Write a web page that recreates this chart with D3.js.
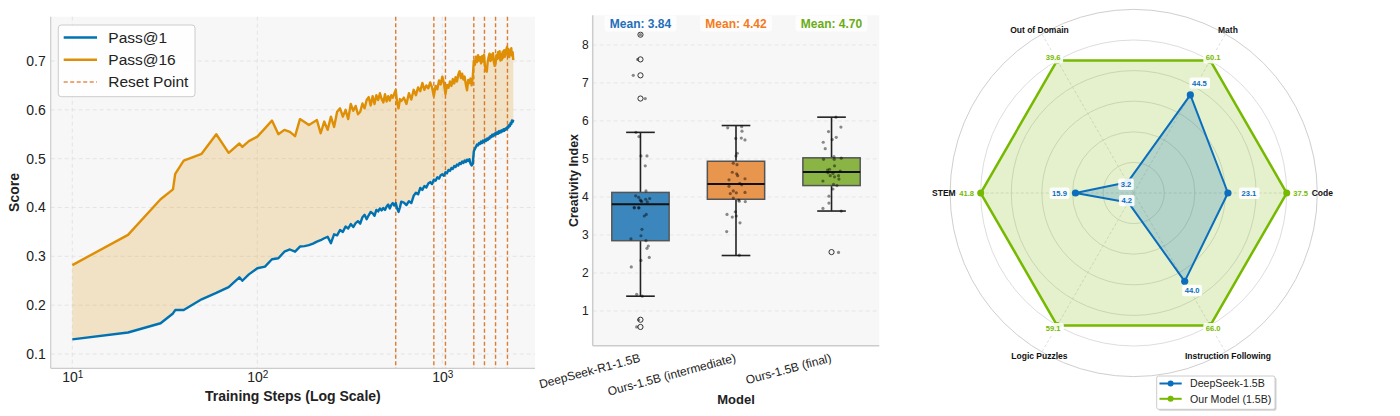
<!DOCTYPE html>
<html><head><meta charset="utf-8">
<script src="https://cdn.jsdelivr.net/npm/d3@7"></script>
<style>
body{margin:0;background:#fff;}
svg{display:block;font-family:"Liberation Sans",Arial,Helvetica,sans-serif;}
</style>
</head><body>
<svg id="c" width="1400" height="416"></svg>
<script>
// ---------------- DATA ----------------
// Left: training curves
const steps = [10,20,30,35,36,40,50,60,70,80,83,90,
 100,110,120,130,140,150,160,170,180,190,
 200,210,220,230,240,250,260,270,280,290,
 300,310,320,330,340,350,360,370,380,390,
 400,410,420,430,440,450,460,470,480,490,
 500,510,520,530,540,550,560,570,580,590,
 600,620,640,660,680,700,720,740,760,780,
 800,820,840,860,880,900,920,940,960,980,
 1000,1020,1040,1060,1080,1100,1120,1140,1160,1180,
 1200,1220,1240,1260,1280,1300,1320,1340,1360,1380,
 1400,1420,1440,1460,1480,1500,1520,1540,1560,1580,
 1600,1620,1640,1660,1680,1700,1720,1740,1760,1780,
 1800,1820,1840,1860,1880,1900,1920,1940,1960,1980,
 2000,2020,2040,2060,2080,2100,2120,2140,2160,2180,
 2200,2220,2240,2260,2280,2300,2320,2340,2360,2380,2400,2420];
const pass1 = [0.130,0.144,0.163,0.183,0.190,0.190,0.212,0.225,0.237,0.257,0.250,0.263,
 0.2755,0.279,0.294,0.296,0.3095,0.314,0.3095,0.320,0.321,0.323,
 0.326,0.330,0.333,0.337,0.340,0.327,0.345,0.343,0.354,0.350,
 0.361,0.357,0.366,0.360,0.368,0.372,0.367,0.380,0.385,0.376,
 0.384,0.391,0.388,0.383,0.395,0.392,0.398,0.394,0.399,0.395,
 0.402,0.406,0.398,0.405,0.409,0.404,0.409,0.398,0.391,0.400,
 0.412,0.410,0.405,0.413,0.409,0.424,0.430,0.427,0.440,0.436,
 0.444,0.441,0.449,0.452,0.448,0.457,0.455,0.462,0.459,0.466,
 0.468,0.465,0.472,0.470,0.477,0.475,0.481,0.479,0.485,0.483,
 0.488,0.486,0.491,0.489,0.494,0.491,0.496,0.493,0.498,0.495,
 0.499,0.490,0.486,0.489,0.515,0.520,0.524,0.529,0.527,0.532,
 0.530,0.535,0.532,0.537,0.534,0.539,0.536,0.541,0.538,0.543,
 0.541,0.546,0.544,0.549,0.546,0.550,0.548,0.553,0.550,0.554,
 0.551,0.556,0.553,0.557,0.554,0.558,0.556,0.560,0.557,0.561,
 0.559,0.563,0.561,0.566,0.564,0.569,0.567,0.573,0.571,0.578,0.575,0.580];
const pass16 = [0.282,0.344,0.417,0.437,0.469,0.496,0.510,0.550,0.512,0.531,0.524,0.536,
 0.545,0.562,0.578,0.550,0.559,0.555,0.546,0.581,0.575,0.569,
 0.574,0.579,0.552,0.576,0.559,0.586,0.565,0.596,0.603,0.586,
 0.600,0.581,0.612,0.598,0.608,0.591,0.596,0.613,0.603,0.620,
 0.626,0.609,0.628,0.612,0.630,0.620,0.634,0.622,0.615,0.632,
 0.617,0.628,0.619,0.630,0.625,0.633,0.641,0.614,0.603,0.622,
 0.618,0.625,0.612,0.634,0.621,0.641,0.630,0.646,0.638,0.655,
 0.641,0.650,0.644,0.656,0.646,0.628,0.649,0.642,0.660,0.652,
 0.668,0.655,0.632,0.651,0.645,0.658,0.649,0.663,0.654,0.667,
 0.658,0.672,0.679,0.665,0.674,0.662,0.668,0.652,0.640,0.661,
 0.655,0.664,0.650,0.666,0.700,0.692,0.709,0.698,0.712,0.701,
 0.708,0.695,0.710,0.699,0.713,0.690,0.680,0.678,0.699,0.708,
 0.715,0.700,0.713,0.703,0.716,0.698,0.690,0.695,0.712,0.704,
 0.718,0.706,0.720,0.701,0.714,0.703,0.719,0.707,0.722,0.709,
 0.715,0.724,0.729,0.712,0.724,0.708,0.721,0.713,0.726,0.711,0.718,0.702];
const resetSteps = [560, 900, 1040, 1480, 1690, 1940, 2250];
const yTicksL = [0.1,0.2,0.3,0.4,0.5,0.6,0.7];
const xTicksL = [10,100,1000];
const legendL = ["Pass@1","Pass@16","Reset Point"];

// Middle: creativity box plot
const models = ["DeepSeek-R1-1.5B","Ours-1.5B (intermediate)","Ours-1.5B (final)"];
const means = [3.84, 4.42, 4.70];
const q1 = [2.85, 3.94, 4.30];
const medians = [3.81, 4.34, 4.66];
const q3 = [4.12, 4.94, 5.03];
const whiskLo = [1.39, 2.46, 3.63];
const whiskHi = [5.70, 5.88, 6.10];
const outliers = [[8.27,7.62,7.20,6.59,0.77,0.58],[],[2.55]];
const pointsA = [8.27,7.62,7.20,6.59,5.70,5.59,5.08,5.08,4.82,4.16,4.03,3.99,3.92,3.94,3.96,3.88,3.87,3.71,3.71,3.90,3.73,3.72,3.50,3.54,3.15,2.98,2.90,2.85,2.71,2.65,2.41,2.33,2.16,1.44,1.39,0.77,0.58];
const pointsB = [5.82,5.85,5.73,5.54,5.55,5.50,5.15,5.08,4.89,4.85,4.65,4.61,4.56,4.48,4.45,4.36,4.32,4.28,4.16,4.09,4.11,4.12,3.97,3.92,3.89,3.88,3.54,3.61,3.47,3.50,3.32,3.09,2.47];
const pointsC = [6.10,5.84,5.72,5.57,5.51,5.44,5.27,5.06,4.99,4.99,5.02,4.82,4.71,4.73,4.64,4.62,4.68,4.56,4.53,4.56,4.42,4.47,4.33,4.30,4.21,4.02,3.84,3.70,3.63,2.54];
const yTicksM = [1,2,3,4,5,6,7,8];

// Right: radar
const radarAxes = ["Code","Math","Out of Domain","STEM","Logic Puzzles","Instruction Following"];
const deepseek = [23.1, 44.5, 3.2, 15.9, 4.2, 44.0];
const ours = [37.5, 60.1, 39.6, 41.8, 59.1, 66.0];
const radarSeries = ["DeepSeek-1.5B","Our Model (1.5B)"];
const radarRings = [0.2,0.4,0.6,0.8,1.0];

// ---------------- LAYOUT / STYLE ----------------
const svg = d3.select('#c');
const BLUE = '#0072B2', ORANGE = '#DE8F05', RESET = '#D55E00';
const TXT = '#222';

// ===== LEFT CHART =====
const L = {x0:50.7, x1:535, y0:16.7, y1:368.3};
const xL = d3.scaleLog().domain([7.64, 3170]).range([L.x0, L.x1]);
const yL = d3.scaleLinear().domain([0.0707, 0.7907]).range([L.y1, L.y0]);
const gL = svg.append('g');
gL.append('rect').attr('x',L.x0).attr('y',L.y0).attr('width',L.x1-L.x0).attr('height',L.y1-L.y0).attr('fill','#f7f7f7');
gL.append('g').selectAll('line').data(yTicksL).join('line')
  .attr('x1',L.x0).attr('x2',L.x1).attr('y1',d=>yL(d)).attr('y2',d=>yL(d))
  .attr('stroke','#e0e0e0').attr('stroke-width',0.8).attr('stroke-dasharray','4,3');
gL.append('g').selectAll('line').data(xTicksL).join('line')
  .attr('x1',d=>xL(d)).attr('x2',d=>xL(d)).attr('y1',L.y0).attr('y2',L.y1)
  .attr('stroke','#e0e0e0').attr('stroke-width',0.8).attr('stroke-dasharray','4,3');

const curve = steps.map((s,i)=>({s, a:pass1[i], b:pass16[i]}));
gL.append('path').datum(curve)
  .attr('d', d3.area().x(d=>xL(d.s)).y0(d=>yL(d.a)).y1(d=>yL(d.b)))
  .attr('fill', ORANGE).attr('fill-opacity', 0.2);
gL.append('g').selectAll('line').data(resetSteps).join('line')
  .attr('x1',d=>xL(d)).attr('x2',d=>xL(d)).attr('y1',L.y0).attr('y2',L.y1)
  .attr('stroke',RESET).attr('stroke-opacity',0.8).attr('stroke-width',1.4).attr('stroke-dasharray','4,2.5');
gL.append('path').datum(curve)
  .attr('d', d3.line().x(d=>xL(d.s)).y(d=>yL(d.a)))
  .attr('fill','none').attr('stroke',BLUE).attr('stroke-width',2.4).attr('stroke-linejoin','round');
gL.append('path').datum(curve)
  .attr('d', d3.line().x(d=>xL(d.s)).y(d=>yL(d.b)))
  .attr('fill','none').attr('stroke',ORANGE).attr('stroke-width',2.4).attr('stroke-linejoin','round');

// spines
gL.append('line').attr('x1',L.x0).attr('x2',L.x0).attr('y1',L.y0).attr('y2',L.y1).attr('stroke','#cccccc').attr('stroke-width',1.2);
gL.append('line').attr('x1',L.x0).attr('x2',L.x1).attr('y1',L.y1).attr('y2',L.y1).attr('stroke','#cccccc').attr('stroke-width',1.2);

const ayL = gL.append('g').attr('transform',`translate(${L.x0},0)`)
  .call(d3.axisLeft(yL).tickValues(yTicksL).tickSize(0).tickPadding(5).tickFormat(d3.format('.1f')));
ayL.select('.domain').remove();
ayL.selectAll('text').attr('font-size',14).attr('fill',TXT).attr('font-family','"Liberation Sans",Arial,sans-serif');
const axL = gL.append('g').attr('transform',`translate(0,${L.y1})`)
  .call(d3.axisBottom(xL).tickValues(xTicksL).tickSize(0).tickPadding(4).tickFormat(()=>''));
axL.select('.domain').remove();
axL.selectAll('.tick text').each(function(d){
  const t = d3.select(this).attr('font-size',14).attr('fill',TXT).attr('font-family','"Liberation Sans",Arial,sans-serif');
  t.append('tspan').text('10');
  t.append('tspan').attr('dy','-0.45em').attr('font-size',10).text(Math.round(Math.log10(d)));
});
gL.append('text').attr('x',(L.x0+L.x1)/2).attr('y',401).attr('text-anchor','middle')
  .attr('font-size',14).attr('font-weight','bold').attr('fill',TXT).text('Training Steps (Log Scale)');
gL.append('text').attr('transform',`translate(19,${(L.y0+L.y1)/2}) rotate(-90)`).attr('text-anchor','middle')
  .attr('font-size',14).attr('font-weight','bold').attr('fill',TXT).text('Score');

// legend
const lg = gL.append('g');
lg.append('rect').attr('x',58.3).attr('y',25).attr('width',136.7).attr('height',71.7).attr('rx',3)
  .attr('fill','#fff').attr('fill-opacity',0.85).attr('stroke','#cccccc').attr('stroke-width',1);
const legStyle = [{c:BLUE,o:1,d:null},{c:ORANGE,o:1,d:null},{c:RESET,o:0.7,d:'4,2.5'}];
legendL.forEach((name,i)=>{
  const y = 37.5 + i*22.2;
  lg.append('line').attr('x1',63.7).attr('x2',97).attr('y1',y).attr('y2',y)
    .attr('stroke',legStyle[i].c).attr('stroke-opacity',legStyle[i].o)
    .attr('stroke-width', i<2?2.4:1.5).attr('stroke-dasharray',legStyle[i].d);
  lg.append('text').attr('x',108.3).attr('y',y+5.4).attr('font-size',15.5).attr('fill',TXT).text(name);
});

// ===== MIDDLE CHART =====
const M = {x0:592.7, x1:879.3, y0:15.3, y1:345.7};
const xM = d3.scaleBand().domain(models).range([M.x0, M.x1]);
const yM = d3.scaleLinear().domain([0.087, 8.78]).range([M.y1, M.y0]);
const gM = svg.append('g');
gM.append('rect').attr('x',M.x0).attr('y',M.y0).attr('width',M.x1-M.x0).attr('height',M.y1-M.y0).attr('fill','#f7f7f7');
gM.append('g').selectAll('line').data(yTicksM).join('line')
  .attr('x1',M.x0).attr('x2',M.x1).attr('y1',d=>yM(d)).attr('y2',d=>yM(d))
  .attr('stroke','#e2e2e2').attr('stroke-width',0.8).attr('stroke-dasharray','4,3');
gM.append('line').attr('x1',M.x0).attr('x2',M.x0).attr('y1',M.y0).attr('y2',M.y1).attr('stroke','#cccccc').attr('stroke-width',1.5);
gM.append('line').attr('x1',M.x0).attr('x2',M.x1).attr('y1',M.y1).attr('y2',M.y1).attr('stroke','#cccccc').attr('stroke-width',1.5);

const boxFill = ['#3b87bd','#e8954e','#8ab443'];
const meanCol = ['#1f6fba','#f57a1c','#6aac16'];
const jitter = [
  [0,-2.8,-7.2,4.8,-4.5,-1.5,0.5,6.5,4.8,5.5,-4.8,-1.8,-0.2,5.2,9.2,1.2,6.8,-6.2,-1.5,0.5,-6.2,-1.8,3.8,5.8,1.5,0.5,-9.5,5.5,7.8,6.5,8.8,0.5,-9.2,-3.8,1.8,-1.8,-3.8],
  [-8.3,5.7,6,-0.3,5.3,9,1.3,0,-2.7,1,-3.7,0.7,1.7,9,-7,3.7,5.7,-7,-2.7,-5.7,0.3,9,-2.7,2.7,3.3,9.3,-9,-0.7,-3.7,0.3,4,-9.3,3.3],
  [4.4,9.4,-3,4.7,0.7,-8.3,-6.3,2.4,-8,2.7,9.7,3,-4,-2,-3.6,1.4,8.7,-1.3,3,7,-8.6,7.4,2,5.4,1.4,-2.6,-2.6,-8.6,9.7,7]
];
const pts = [pointsA, pointsB, pointsC];
const bw = xM.bandwidth()*0.6;
models.forEach((m,i)=>{
  const cx = xM(m) + xM.bandwidth()/2;
  const g = gM.append('g');
  g.append('line').attr('x1',cx).attr('x2',cx).attr('y1',yM(q3[i])).attr('y2',yM(whiskHi[i])).attr('stroke','#222').attr('stroke-width',1.6);
  g.append('line').attr('x1',cx).attr('x2',cx).attr('y1',yM(q1[i])).attr('y2',yM(whiskLo[i])).attr('stroke','#222').attr('stroke-width',1.6);
  [whiskHi[i], whiskLo[i]].forEach(v=>{
    g.append('line').attr('x1',cx-bw/4).attr('x2',cx+bw/4).attr('y1',yM(v)).attr('y2',yM(v)).attr('stroke','#222').attr('stroke-width',1.6);
  });
  g.append('rect').attr('x',cx-bw/2).attr('width',bw).attr('y',yM(q3[i])).attr('height',yM(q1[i])-yM(q3[i]))
    .attr('fill',boxFill[i]).attr('stroke','#555').attr('stroke-width',1.5);
  g.append('line').attr('x1',cx-bw/2).attr('x2',cx+bw/2).attr('y1',yM(medians[i])).attr('y2',yM(medians[i])).attr('stroke','#111').attr('stroke-width',2);
  g.selectAll('circle.o').data(outliers[i]).join('circle').attr('class','o')
    .attr('cx',cx).attr('cy',d=>yM(d)).attr('r',2.6).attr('fill','none').attr('stroke','#333').attr('stroke-width',1);
  g.selectAll('circle.p').data(pts[i]).join('circle').attr('class','p')
    .attr('cx',(d,k)=>cx+jitter[i][k]).attr('cy',d=>yM(d)).attr('r',1.6).attr('fill','#000').attr('fill-opacity',0.45);
  const lab = 'Mean: ' + means[i].toFixed(2);
  g.append('rect').attr('x',cx-36).attr('y',15.5).attr('width',72).attr('height',16).attr('rx',3)
    .attr('fill','#fff').attr('fill-opacity',0.75);
  g.append('text').attr('x',cx).attr('y',27.6).attr('text-anchor','middle').attr('font-size',12).attr('font-weight','bold')
    .attr('fill',meanCol[i]).text(lab);
  g.append('text').attr('x',cx+0.5).attr('y',361.5).attr('text-anchor','end')
    .attr('transform',`rotate(-15,${cx+0.5},361.5)`).attr('font-size',12).attr('fill',TXT).text(m);
});
const ayM = gM.append('g').attr('transform',`translate(${M.x0},0)`)
  .call(d3.axisLeft(yM).tickValues(yTicksM).tickSize(0).tickPadding(4).tickFormat(d3.format('d')));
ayM.select('.domain').remove();
ayM.selectAll('text').attr('font-size',12).attr('fill',TXT).attr('font-family','"Liberation Sans",Arial,sans-serif');
gM.append('text').attr('transform',`translate(578,${(M.y0+M.y1)/2}) rotate(-90)`).attr('text-anchor','middle')
  .attr('font-size',12.5).attr('font-weight','bold').attr('fill',TXT).text('Creativity Index');
gM.append('text').attr('x',(M.x0+M.x1)/2).attr('y',404).attr('text-anchor','middle')
  .attr('font-size',13).attr('font-weight','bold').attr('fill',TXT).text('Model');

// ===== RIGHT RADAR =====
const R = {cx:1133.7, cy:193};
const rS = d3.scaleLinear().domain([0,1.2]).range([0,183.6]);
const angle = d3.scaleLinear().domain([0, radarAxes.length]).range([0, 2*Math.PI]);
const gR = svg.append('g');
const pt = (i, v) => [R.cx + rS(v)*Math.cos(angle(i)), R.cy - rS(v)*Math.sin(angle(i))];
gR.selectAll('circle.ring').data(radarRings).join('circle').attr('class','ring')
  .attr('cx',R.cx).attr('cy',R.cy).attr('r',d=>rS(d)).attr('fill','none').attr('stroke','#d4d4d4').attr('stroke-width',0.8);
gR.append('circle').attr('cx',R.cx).attr('cy',R.cy).attr('r',rS(1.2)).attr('fill','none').attr('stroke','#cfcfcf').attr('stroke-width',1);
radarAxes.forEach((a,i)=>{
  const [x,y] = pt(i,1.2);
  gR.append('line').attr('x1',R.cx).attr('y1',R.cy).attr('x2',x).attr('y2',y)
    .attr('stroke','#d8d8d8').attr('stroke-width',0.8).attr('stroke-dasharray','3,2');
});
const maxes = radarAxes.map((a,i)=>Math.max(deepseek[i], ours[i]));
const GREEN = '#76B900', RBLUE = '#0A6EBD';
const series = [
  {vals: ours, col: GREEN, fo: 0.2, w: 2.5, r: 3.5, off: [[14,0],[3,-3],[-4,-3],[-14,0],[-4,3],[3,3]]},
  {vals: deepseek, col: RBLUE, fo: 0.22, w: 2, r: 3.6, off: [[21,0],[9,-12],[-1.5,1.7],[-16,0],[-1.5,-2],[7.4,9]]}
];
series.forEach(s=>{
  const P = s.vals.map((v,i)=>pt(i, v/maxes[i]));
  gR.append('path').attr('d', d3.line().curve(d3.curveLinearClosed)(P))
    .attr('fill',s.col).attr('fill-opacity',s.fo).attr('stroke',s.col).attr('stroke-width',s.w).attr('stroke-linejoin','round');
  gR.selectAll(null).data(P).join('circle').attr('cx',d=>d[0]).attr('cy',d=>d[1]).attr('r',s.r).attr('fill',s.col);
});
series.forEach(s=>{
  s.vals.forEach((v,i)=>{
    const [x,y] = pt(i, v/maxes[i]);
    const lx = x + s.off[i][0], ly = y + s.off[i][1];
    const g = gR.append('g');
    const r = g.append('rect').attr('rx',2).attr('fill','#fff').attr('fill-opacity',0.9);
    const t = g.append('text').attr('x',lx).attr('y',ly+2.7).attr('text-anchor','middle')
      .attr('font-size',7.6).attr('font-weight','bold').attr('fill',s.col).text(v.toFixed(1));
    const bb = t.node().getBBox();
    r.attr('x',bb.x-2.5).attr('y',bb.y-1.2).attr('width',bb.width+5).attr('height',bb.height+2.4);
  });
});
radarAxes.forEach((a,i)=>{
  const th = angle(i);
  let x, y, anchor;
  if (Math.abs(Math.cos(th)) > 0.99) {
    x = R.cx + (Math.cos(th) > 0 ? 178 : -178); y = R.cy; anchor = Math.cos(th) > 0 ? 'start' : 'end';
  } else {
    x = R.cx + 188.5*Math.cos(th); y = R.cy - 188.5*Math.sin(th); anchor = 'middle';
  }
  gR.append('text').attr('x',x).attr('y',y+3).attr('text-anchor',anchor)
    .attr('font-size',8.5).attr('font-weight','bold').attr('fill','#111').text(a);
});
const lgR = gR.append('g');
lgR.append('rect').attr('x',1158.2).attr('y',377.5).attr('width',118.3).attr('height',33.3).attr('rx',2).attr('fill','#999').attr('fill-opacity',0.45);
lgR.append('rect').attr('x',1156.7).attr('y',376).attr('width',118.3).attr('height',33.3).attr('rx',2).attr('fill','#fff').attr('stroke','#cccccc');
radarSeries.forEach((n,i)=>{
  const y = 383.5 + i*15.3;
  const c = i===0 ? RBLUE : GREEN;
  lgR.append('line').attr('x1',1159.5).attr('x2',1181.7).attr('y1',y).attr('y2',y).attr('stroke',c).attr('stroke-width',2);
  lgR.append('circle').attr('cx',1170.6).attr('cy',y).attr('r',3).attr('fill',c);
  lgR.append('text').attr('x',1190).attr('y',y+3.8).attr('font-size',10.6).attr('fill',TXT).text(n);
});
</script>
</body></html>
